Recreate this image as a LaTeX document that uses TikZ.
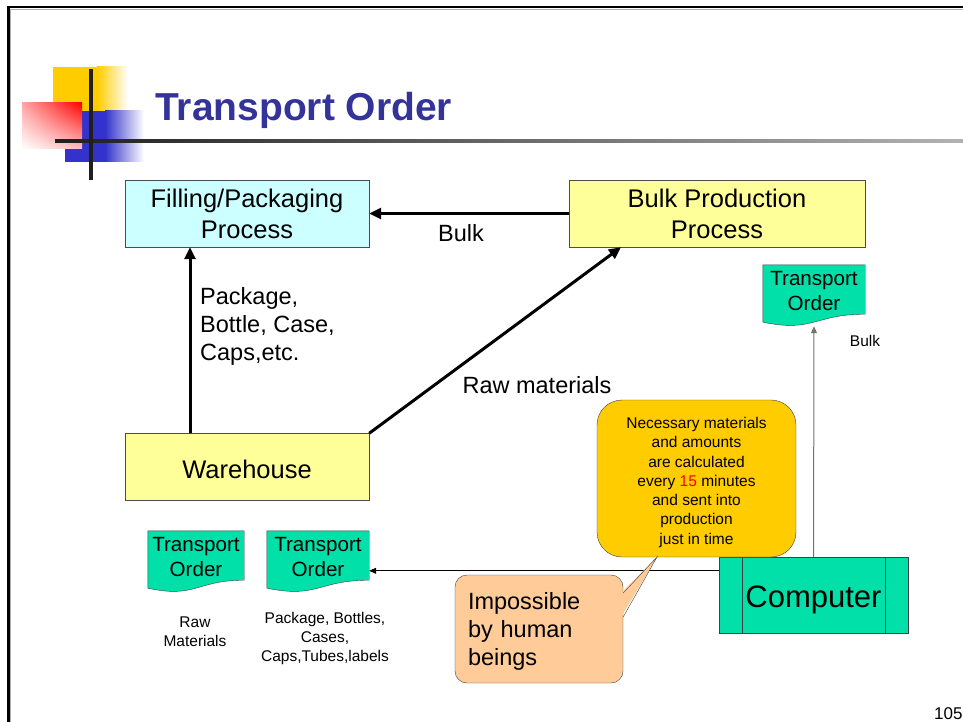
\documentclass[tikz,border=0pt]{standalone}
\usepackage{fontspec}
\setmainfont{Liberation Sans}
\usetikzlibrary{calc,backgrounds,arrows.meta,shadings}
\definecolor{titleblue}{HTML}{333399}
\definecolor{fillcyan}{HTML}{CCFFFF}
\definecolor{procyellow}{HTML}{FFFF99}
\definecolor{docgreen}{HTML}{00E0A8}
\definecolor{calloutyellow}{HTML}{FFCC00}
\definecolor{humanorange}{HTML}{FFCC99}
\definecolor{logoyellow}{HTML}{FFCC00}
\definecolor{logoblue}{HTML}{3333CC}
\tikzstyle{flowbox} = [rectangle, minimum width=244, minimum height=67, inner sep=0, align=center, draw=black!70, font=\fontsize{25.5}{31}\selectfont]
\tikzstyle{docbox} = [rectangle, minimum height=52, inner sep=0, align=center, font=\fontsize{20.6}{25}\selectfont]
\tikzstyle{docline} = [draw=black!75, fill=docgreen]
\tikzstyle{callout} = [rectangle, inner sep=0, align=center, draw=black!75]
\tikzstyle{midlabel} = [inner sep=0, font=\fontsize{23.5}{28}\selectfont]
\tikzstyle{smalllabel} = [inner sep=0, align=center, font=\fontsize{15.5}{19}\selectfont]
\tikzstyle{arrow} = [line width=3pt,->,>={Triangle[length=12pt,width=11pt]}]
\tikzstyle{thinarrow} = [line width=1pt,->,>={Triangle[length=7pt,width=6pt]}]
% lowers a text without changing its box
\newcommand{\lowertext}[2]{\raisebox{-#1}[\height][\depth]{#2}}
% document shape with a wavy bottom edge
\newcommand{\orderdoc}[4]{%
  \node (#1) [docbox, minimum width=#3] at (#2) {#4};
  \begin{scope}[on background layer]
    \draw[docline] (#1.north west) -- (#1.north east) -- ([yshift=3pt]#1.south east)
      .. controls ([yshift=3pt]#1.south) and ([yshift=-15.5pt]#1.south) .. ([yshift=-5pt]#1.south west) -- cycle;
  \end{scope}}

\begin{document}
\begin{tikzpicture}[x=1pt,y=-1pt]
\useasboundingbox (0,0) rectangle (963,722);

% slide frame
\draw[black!30, line width=1.2pt] (10.5,722) -- (10.5,9.2) -- (963,9.2);
\draw[line width=2.7pt] (8.4,722) -- (8.4,7) -- (963,7);

% logo
\fill[logoyellow] (53,67) rectangle (97,112);
\shade[left color=logoyellow, right color=white] (97,67) rectangle (128,112);
\fill[logoblue] (65,111) rectangle (105,162);
\shade[left color=logoblue, right color=white] (105,111) rectangle (144,162);
\shade[upper right=red, lower left=white, upper left=red!35, lower right=red!25] (22,103) rectangle (82,149);
\shade[left color=black!88, right color=black!30] (55,139.5) rectangle (963,142.5);
\fill[black!88] (89.3,69) rectangle (92.8,180);

\node (title) [anchor=base west, inner sep=0, text=titleblue, font=\fontsize{39}{44}\selectfont\bfseries] at (155,121) {Transport Order};

% process boxes
\node (filling) [flowbox, fill=fillcyan] at (247,213.5) {Filling/Packaging\\Process};
\node (bulkproc) [flowbox, fill=procyellow, minimum width=296] at (717,213.5) {Bulk Production\\Process};
\node (warehouse) [flowbox, fill=procyellow] at (247,467) {\lowertext{2pt}{Warehouse}};

\draw [arrow] (bulkproc.west) -- (filling.east);
\draw [arrow] ([xshift=-57pt]warehouse.north) -- ([xshift=-57pt]filling.south);
\draw [arrow] (warehouse.north east) -- ([xshift=-96pt]bulkproc.south);

\node (bulklbl) [midlabel] at (461,233) {Bulk};
\node (pklbl) [midlabel, align=left, anchor=west] at (200,326) {Package,\\Bottle, Case,\\Caps,etc.};
\node (rawlbl) [midlabel] at (537,385) {Raw materials};

% transport orders
\orderdoc{tor}{814,291}{102}{Transport\\Order}
\orderdoc{toraw}{196,557}{96}{Transport\\Order}
\orderdoc{topk}{318,557}{102}{Transport\\Order}

\node (bulksmall) [smalllabel] at (865,341) {Bulk};
\node (rawsmall) [smalllabel] at (195,632) {Raw\\Materials};
\node (pksmall) [smalllabel] at (325,638) {Package, Bottles,\\Cases,\\Caps,Tubes,labels};

% computer
\node (computer) [rectangle, minimum width=189, minimum height=76, inner sep=0, draw=black!75, fill=docgreen, font=\fontsize{31}{36}\selectfont] at (813.5,595) {\lowertext{5pt}{Computer}};
\draw[black!75] ([xshift=23pt]computer.north west) -- ([xshift=23pt]computer.south west);
\draw[black!75] ([xshift=-23pt]computer.north east) -- ([xshift=-23pt]computer.south east);

\coordinate (cleft) at ([yshift=-14pt]computer.north west);
\draw [thinarrow] (cleft) -- (cleft -| topk.east);
\draw [thinarrow, black!55] (computer.north) -- ([yshift=-9pt]tor.south);

% callouts
\node (calc) [callout, fill=calloutyellow, minimum width=199, minimum height=157, rounded corners=25, font=\fontsize{15.5}{19.3}\selectfont] at (696.5,478.5)
  {\lowertext{4pt}{\begin{tabular}{@{}c@{}}Necessary materials\\and amounts\\are calculated\\every \textcolor{red}{15} minutes\\and sent into\\production\\just in time\end{tabular}}};
\node (human) [callout, fill=humanorange, minimum width=168, minimum height=108, rounded corners=12, align=left, text width=142, font=\fontsize{23.5}{28}\selectfont] at (539,629)
  {\lowertext{3pt}{\begin{tabular}{@{}l@{}}Impossible\\by human\\beings\end{tabular}}};
\coordinate (humantip) at (657,557);
\fill[humanorange] ([shift={(-2pt,36pt)}]human.east) -- (humantip) -- ([shift={(-2pt,12pt)}]human.east) -- cycle;
\draw[black!75] ([yshift=36pt]human.east) -- (humantip) -- ([yshift=12pt]human.east);

\node (pagenum) [anchor=north west, inner sep=0, font=\fontsize{17}{20}\selectfont] at (934,707) {105};

\end{tikzpicture}
\end{document}
